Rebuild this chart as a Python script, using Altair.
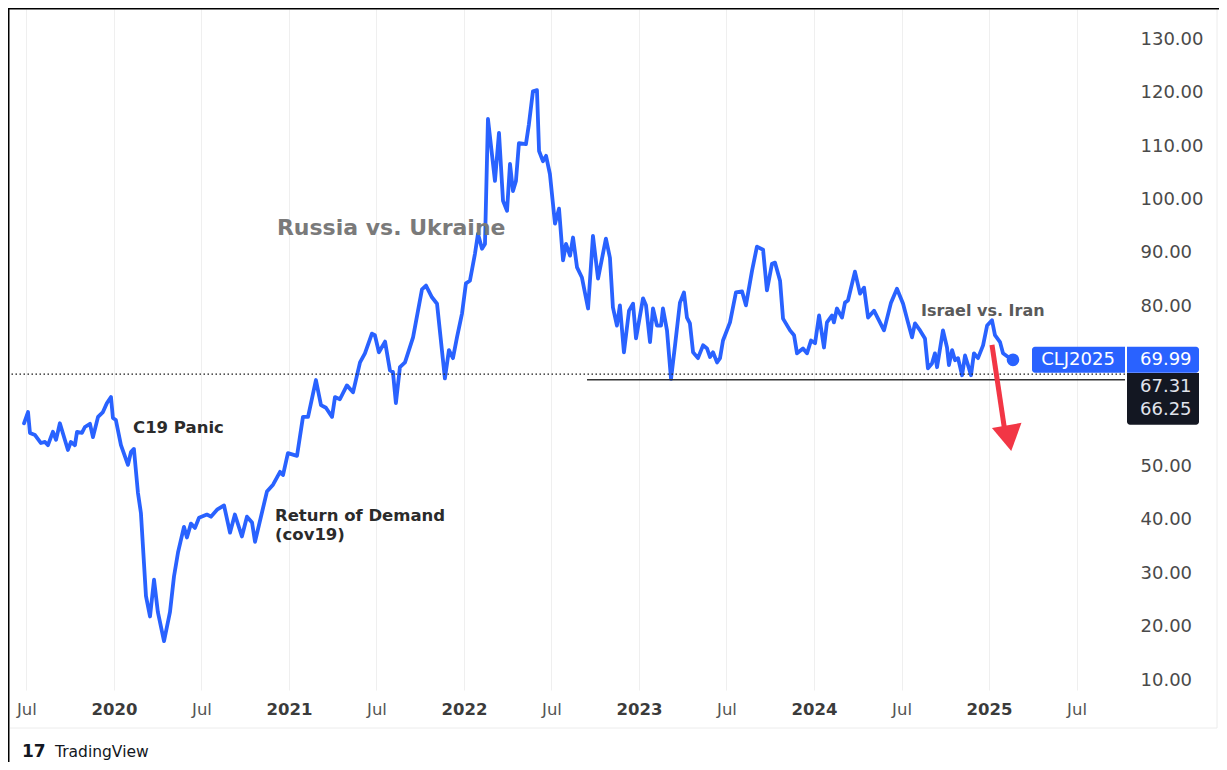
import altair as alt
import pandas as pd

# ------------------------------------------------------------------ data
years = [2019.486, 2019.509, 2019.520, 2019.549, 2019.583, 2019.606, 2019.623, 2019.651, 2019.669, 2019.691,
         2019.737, 2019.754, 2019.777, 2019.789, 2019.817, 2019.834, 2019.863, 2019.880, 2019.909, 2019.937,
         2019.960, 2019.983, 2019.994, 2020.011, 2020.040, 2020.080, 2020.097, 2020.114, 2020.137, 2020.154,
         2020.183, 2020.206, 2020.229, 2020.251, 2020.286, 2020.320, 2020.343, 2020.366, 2020.400, 2020.417,
         2020.440, 2020.463, 2020.486, 2020.531, 2020.554, 2020.589, 2020.629, 2020.663, 2020.691, 2020.731,
         2020.760, 2020.789, 2020.806, 2020.874, 2020.909, 2020.949, 2020.966, 2020.994, 2021.046, 2021.080,
         2021.109, 2021.154, 2021.183, 2021.211, 2021.246, 2021.263, 2021.291, 2021.331, 2021.366, 2021.406,
         2021.434, 2021.474, 2021.491, 2021.514, 2021.549, 2021.577, 2021.594, 2021.611, 2021.634, 2021.663,
         2021.709, 2021.760, 2021.783, 2021.817, 2021.846, 2021.891, 2021.914, 2021.937, 2021.960, 2021.989,
         2022.011, 2022.034, 2022.063, 2022.080, 2022.103, 2022.120, 2022.137, 2022.177, 2022.200, 2022.223,
         2022.246, 2022.263, 2022.280, 2022.297, 2022.314, 2022.354, 2022.371, 2022.394, 2022.417, 2022.429,
         2022.451, 2022.469, 2022.491, 2022.520, 2022.543, 2022.566, 2022.583, 2022.606, 2022.623, 2022.646,
         2022.674, 2022.709, 2022.737, 2022.766, 2022.811, 2022.834, 2022.851, 2022.874, 2022.891, 2022.914,
         2022.943, 2022.966, 2022.983, 2023.023, 2023.040, 2023.063, 2023.080, 2023.103, 2023.126, 2023.137,
         2023.160, 2023.183, 2023.206, 2023.234, 2023.257, 2023.274, 2023.291, 2023.309, 2023.337, 2023.366,
         2023.389, 2023.406, 2023.423, 2023.446, 2023.463, 2023.480, 2023.520, 2023.554, 2023.589, 2023.611,
         2023.646, 2023.674, 2023.709, 2023.731, 2023.760, 2023.777, 2023.806, 2023.823, 2023.863, 2023.886,
         2023.903, 2023.937, 2023.960, 2023.983, 2024.006, 2024.029, 2024.057, 2024.074, 2024.103, 2024.114,
         2024.131, 2024.160, 2024.177, 2024.194, 2024.234, 2024.263, 2024.286, 2024.309, 2024.343, 2024.366,
         2024.400, 2024.440, 2024.474, 2024.509, 2024.537, 2024.560, 2024.577, 2024.606, 2024.634, 2024.651,
         2024.674, 2024.691, 2024.703, 2024.737, 2024.760, 2024.771, 2024.789, 2024.806, 2024.823, 2024.846,
         2024.863, 2024.880, 2024.897, 2024.914, 2024.937, 2024.966, 2024.989, 2025.017, 2025.034, 2025.063,
         2025.080, 2025.109, 2025.137]

prices = [58.1, 60.2, 56.3, 55.9, 54.4, 54.6, 54.0, 56.5, 55.0, 58.1,
          53.1, 54.6, 54.0, 56.5, 56.3, 57.4, 58.0, 55.5, 59.3, 60.2,
          61.9, 63.0, 59.1, 58.7, 54.0, 50.3, 52.7, 53.3, 45.1, 41.3,
          25.7, 21.9, 28.8, 22.7, 17.3, 22.7, 29.4, 33.9, 38.7, 36.7,
          39.3, 38.5, 40.4, 41.0, 40.6, 41.9, 42.7, 37.6, 41.0, 36.9,
          40.6, 39.5, 35.9, 45.3, 46.6, 49.0, 48.4, 52.5, 52.0, 59.3,
          59.3, 66.2, 61.5, 61.0, 59.3, 63.0, 62.6, 65.2, 63.9, 69.5,
          71.2, 74.9, 74.6, 71.4, 73.4, 68.0, 67.7, 61.9, 68.6, 69.5,
          74.2, 83.2, 83.9, 81.7, 80.5, 66.5, 71.8, 70.3, 74.2, 78.7,
          84.3, 84.8, 89.9, 93.6, 90.8, 91.7, 115.1, 103.5, 112.5, 99.8,
          97.9, 106.7, 101.6, 103.5, 110.6, 110.4, 114.1, 120.3, 120.5, 109.1,
          107.2, 108.2, 104.8, 95.5, 98.3, 88.6, 91.7, 89.5, 92.9, 87.3,
          85.4, 79.6, 93.2, 85.2, 92.7, 89.1, 79.8, 76.4, 80.2, 71.4,
          79.2, 80.5, 74.0, 81.5, 80.2, 73.3, 79.6, 76.4, 76.4, 79.6,
          75.5, 66.4, 72.7, 80.7, 82.6, 77.9, 76.8, 71.4, 70.3, 72.7,
          72.1, 70.5, 71.4, 69.5, 70.3, 73.6, 77.0, 82.6, 82.8, 80.2,
          86.7, 91.2, 90.6, 83.0, 88.0, 88.2, 84.8, 77.7, 75.5, 74.6,
          71.2, 72.1, 71.2, 73.6, 73.1, 78.3, 72.3, 77.0, 78.3, 77.0,
          79.6, 77.9, 80.7, 81.1, 86.5, 82.4, 83.5, 77.9, 79.2, 77.7,
          75.5, 80.7, 83.3, 80.5, 77.0, 74.2, 76.8, 75.5, 74.0, 68.4,
          69.3, 71.2, 68.6, 75.5, 72.3, 69.0, 71.8, 69.9, 70.3, 67.1,
          70.8, 69.0, 67.1, 71.2, 70.3, 72.7, 76.4, 77.4, 74.6, 73.3,
          71.2, 70.5, 69.99]

# price-scale labels that stay visible (60.00 and 70.00 sit under the price tags)
price_ticks = [10, 20, 30, 40, 50, 80, 90, 100, 110, 120, 130]
time_ticks = [2019.5, 2020, 2020.5, 2021, 2021.5, 2022, 2022.5, 2023, 2023.5,
              2024, 2024.5, 2025, 2025.5]

ann_labels = ["C19 Panic", "Return of Demand", "(cov19)", "Russia vs. Ukraine", "Israel vs. Iran"]
ann_years = [2020.109, 2020.920, 2020.920, 2020.931, 2024.611]
ann_prices = [57.2, 40.7, 37.2, 94.7, 79.1]

symbol = ["CLJ2025"]
last_price = [69.99]
level_prices = [67.31, 66.25]
support_start = [2022.703]

arrow_years = [2025.017, 2025.091]
arrow_prices = [72.8, 56.5]
arrow_head_year = [2025.114]
arrow_head_price = [55.3]

brand = ["TradingView"]
logo = ["17"]

# ------------------------------------------------------------------ style
FONT = "DejaVu Sans"
BLUE = "#2962FF"
RED = "#F23645"
DARK = "#131722"
W, H = 1115, 681

xs = alt.Scale(domain=[2019.406, 2025.777], nice=False, zero=False)
ys = alt.Scale(domain=[8.13, 135.71], nice=False, zero=False)

is_year = "datum.value % 1 == 0"
x_axis = alt.Axis(
    values=time_ticks,
    labelExpr=f"{is_year} ? toString(datum.value) : 'Jul'",
    labelFontWeight={"condition": {"test": is_year, "value": "bold"}, "value": "normal"},
    labelColor={"condition": {"test": is_year, "value": "#3b3b3b"}, "value": "#555555"},
    labelFont=FONT, labelFontSize=16.5, labelPadding=19, labelBaseline="middle",
    labelFlush=False, labelOverlap=False, ticks=False, tickSize=0, domain=False,
    grid=True, gridColor="#efefef", gridWidth=1, title=None,
)
y_axis = alt.Axis(
    orient="right", values=price_ticks, format=".2f",
    labelFont=FONT, labelFontSize=18, labelColor="#4a4a4a",
    labelPadding=15, labelAlign="left", labelBaseline="middle",
    ticks=False, tickSize=0, domain=False, grid=False,
    labelFlush=False, labelOverlap=False, title=None,
)


def X(field="t"):
    return alt.X(f"{field}:Q", scale=xs, axis=x_axis)


def Y(field="price"):
    return alt.Y(f"{field}:Q", scale=ys, axis=y_axis)


df = pd.DataFrame({"t": years, "price": prices})

main = alt.Chart(df).mark_line(
    color=BLUE, strokeWidth=3.8, strokeJoin="round", strokeCap="round"
).encode(x=X(), y=Y())

end_dot = alt.Chart(df.tail(1)).mark_circle(size=160, color=BLUE, opacity=1).encode(x=X(), y=Y())

dotted = alt.Chart(pd.DataFrame({"price": [level_prices[0]]})).mark_rule(
    color="#1a1a1a", strokeWidth=1.3, strokeDash=[1.5, 2.5]
).encode(y=Y())

support = alt.Chart(pd.DataFrame({"t": support_start, "price": [level_prices[1]]})).mark_rule(
    color="#333333", strokeWidth=1.3
).encode(x=X(), x2=alt.value(W), y=Y())

ann = pd.DataFrame({"label": ann_labels, "t": ann_years, "price": ann_prices})
ann_dark = alt.Chart(ann.iloc[0:3]).mark_text(
    align="left", baseline="middle", font=FONT, fontWeight="bold", fontSize=16.5, color="#2b2b2b"
).encode(x=X(), y=Y(), text="label:N")
ann_russia = alt.Chart(ann.iloc[3:4]).mark_text(
    align="left", baseline="middle", font=FONT, fontWeight="bold", fontSize=22, color="#7a7a7a"
).encode(x=X(), y=Y(), text="label:N")
ann_israel = alt.Chart(ann.iloc[4:5]).mark_text(
    align="left", baseline="middle", font=FONT, fontWeight="bold", fontSize=16, color="#5a5a5a"
).encode(x=X(), y=Y(), text="label:N")

arrow_line = alt.Chart(pd.DataFrame({"t": arrow_years, "price": arrow_prices})).mark_line(
    color=RED, strokeWidth=5, strokeCap="butt"
).encode(x=X(), y=Y())
arrow_head = alt.Chart(pd.DataFrame({"t": arrow_head_year, "price": arrow_head_price})).mark_point(
    shape="triangle-down", filled=True, size=900, angle=350, color=RED, opacity=1, strokeWidth=0
).encode(x=X(), y=Y())

# price-scale tags
last_df = pd.DataFrame({"price": last_price, "sym": symbol, "lbl": [f"{v:.2f}" for v in last_price]})
sym_box = alt.Chart(last_df).mark_rect(
    color=BLUE, yOffset=-13, y2Offset=13, cornerRadiusTopLeft=3, cornerRadiusBottomLeft=3
).encode(x=alt.value(1022), x2=alt.value(W), y=Y(), y2=alt.Y2("price:Q"))
price_box = alt.Chart(last_df).mark_rect(
    color=BLUE, yOffset=-13, y2Offset=13, cornerRadiusTopRight=3, cornerRadiusBottomRight=3
).encode(x=alt.value(W + 2), x2=alt.value(W + 74), y=Y(), y2=alt.Y2("price:Q"))
sym_text = alt.Chart(last_df).mark_text(
    align="center", baseline="middle", font=FONT, fontSize=18, color="white"
).encode(x=alt.value(1068), y=Y(), text="sym:N")
price_text = alt.Chart(last_df).mark_text(
    align="left", baseline="middle", font=FONT, fontSize=18, color="white"
).encode(x=alt.value(W + 15), y=Y(), text="lbl:N")

lv = pd.DataFrame({"price": [level_prices[0]], "price2": [level_prices[1]]})
level_box = alt.Chart(lv).mark_rect(
    color=DARK, yOffset=-1, y2Offset=45, cornerRadiusBottomRight=3, cornerRadiusBottomLeft=3
).encode(x=alt.value(W + 2), x2=alt.value(W + 74), y=Y(), y2=alt.Y2("price2:Q"))
lvl_df = pd.DataFrame({"price": level_prices, "lbl": [f"{v:.2f}" for v in level_prices]})
lvl_text1 = alt.Chart(lvl_df.iloc[0:1]).mark_text(
    align="left", baseline="middle", font=FONT, fontSize=18, color="#e0e3eb", dy=13
).encode(x=alt.value(W + 15), y=Y(), text="lbl:N")
lvl_text2 = alt.Chart(lvl_df.iloc[1:2]).mark_text(
    align="left", baseline="middle", font=FONT, fontSize=18, color="#e0e3eb", dy=30
).encode(x=alt.value(W + 15), y=Y(), text="lbl:N")

# footer + frames
foot_df = pd.DataFrame({"brand": brand, "logo": logo})
foot_text = alt.Chart(foot_df).mark_text(
    align="left", baseline="middle", font=FONT, fontSize=15.5, color=DARK
).encode(x=alt.value(45), y=alt.value(743), text="brand:N")
foot_logo = alt.Chart(foot_df).mark_text(
    align="left", baseline="middle", font=FONT, fontSize=17, fontWeight="bold", color=DARK
).encode(x=alt.value(12), y=alt.value(743), text="logo:N")

k = pd.DataFrame({"k": [0]})
tv_right = alt.Chart(k).mark_rule(color="#ececec", strokeWidth=1).encode(
    x=alt.value(1207), y=alt.value(0), y2=alt.value(719))
tv_bottom = alt.Chart(k).mark_rule(color="#ececec", strokeWidth=1).encode(
    x=alt.value(0), x2=alt.value(1207), y=alt.value(719))
frame_left = alt.Chart(k).mark_rule(color="black", strokeWidth=2).encode(
    x=alt.value(-1.5), y=alt.value(-2), y2=alt.value(760))
frame_top = alt.Chart(k).mark_rule(color="black", strokeWidth=2).encode(
    x=alt.value(-2), x2=alt.value(1215), y=alt.value(-0.5))

chart = alt.layer(
    main, dotted, support, end_dot,
    ann_dark, ann_russia, ann_israel,
    arrow_line, arrow_head,
    sym_box, price_box, sym_text, price_text,
    level_box, lvl_text1, lvl_text2,
    foot_text, foot_logo, tv_right, tv_bottom, frame_left, frame_top,
).properties(
    width=W, height=H,
    padding={"left": 2, "top": 1, "right": 94, "bottom": 72},
    autosize=alt.AutoSizeParams(type="none"),
    background="white",
).configure_view(strokeWidth=0)

chart.save("out.html", embed_options={"renderer": "svg", "actions": False})
